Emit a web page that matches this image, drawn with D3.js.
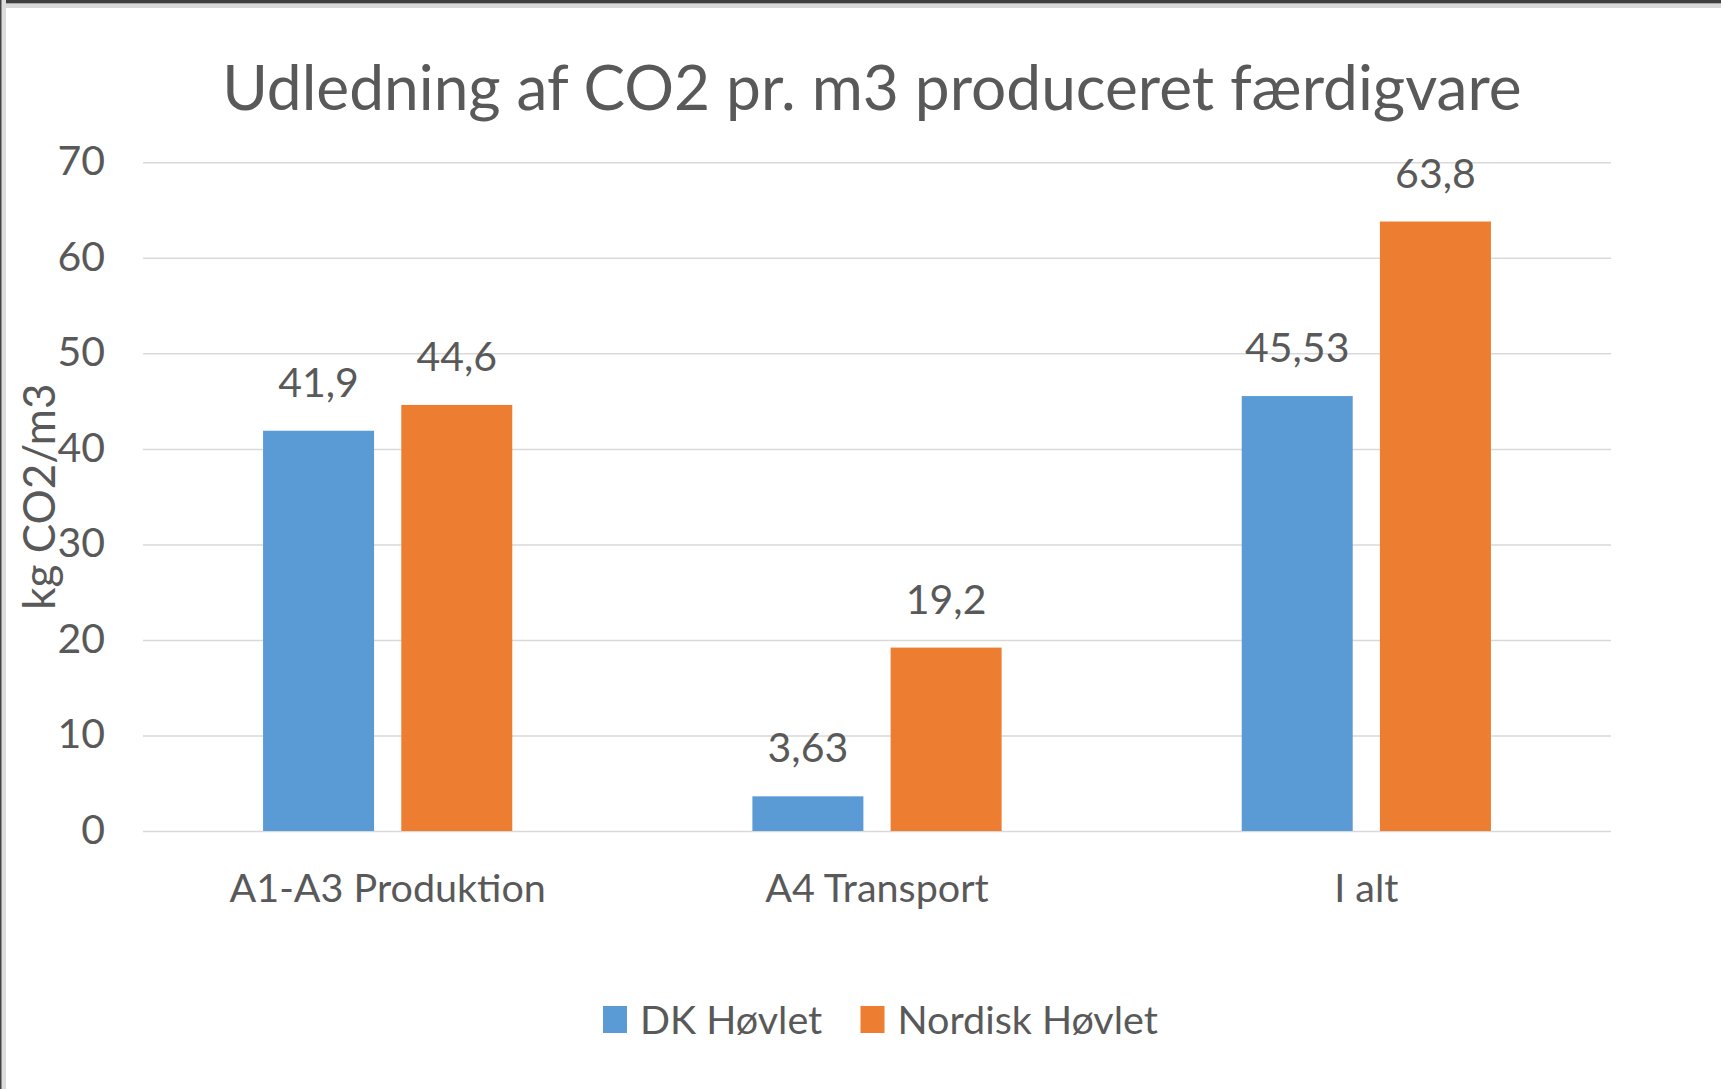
<!DOCTYPE html>
<html>
<head>
<meta charset="utf-8">
<script src="https://cdn.jsdelivr.net/npm/d3@7"></script>
<style>
  body { margin: 0; background: #fff; }
  text { font-family: Lato, "Open Sans", sans-serif; fill: #595959; }
</style>
</head>
<body>
<div id="chart"></div>
<script>
// data
var categories = ["A1-A3 Produktion", "A4 Transport", "I alt"];
var seriesNames = ["DK Høvlet", "Nordisk Høvlet"];
var dkValues = [41.9, 3.63, 45.53];
var nordiskValues = [44.6, 19.2, 63.8];
var yTicks = [0, 10, 20, 30, 40, 50, 60, 70];
var colors = ["#5b9bd5", "#ed7d31"];

var width = 1721, height = 1089;
var plot = { left: 143, right: 1611, top: 162.3, bottom: 831 };

var svg = d3.select("#chart").append("svg")
    .attr("width", width)
    .attr("height", height);

svg.append("rect").attr("width", width).attr("height", height).attr("fill", "#fff");

// window frame bits at top and left
svg.append("rect").attr("x", 0).attr("y", 0).attr("width", width).attr("height", 8).attr("fill", "#d9d9d9");
svg.append("rect").attr("x", 0).attr("y", 0).attr("width", width).attr("height", 3.3).attr("fill", "#3f3f3f");
svg.append("rect").attr("x", 0).attr("y", 0).attr("width", 6).attr("height", height).attr("fill", "#dcdcdc");
svg.append("rect").attr("x", 0).attr("y", 0).attr("width", 1.5).attr("height", height).attr("fill", "#444");

// scales
var x0 = d3.scaleBand()
    .domain(categories)
    .range([plot.left, plot.right])
    .paddingInner(0.4907)
    .paddingOuter(0.24535);

var x1 = d3.scaleBand()
    .domain(seriesNames)
    .range([0, x0.bandwidth()])
    .paddingInner(0.197)
    .paddingOuter(0);

var y = d3.scaleLinear()
    .domain([0, 70])
    .range([plot.bottom, plot.top]);

// gridlines + y tick labels
var yAxis = svg.append("g")
    .attr("transform", "translate(" + plot.left + ",0)")
    .call(d3.axisLeft(y)
        .tickValues(yTicks)
        .tickSize(-(plot.right - plot.left))
        .tickPadding(38));
yAxis.select(".domain").remove();
yAxis.selectAll(".tick line").attr("stroke", "#d9d9d9").attr("stroke-width", 1.5);
yAxis.selectAll(".tick text")
    .attr("font-size", 41)
    .attr("font-family", "Lato, sans-serif")
    .attr("fill", "#595959")
    .attr("dy", "0.3em");

// category labels
var xAxis = svg.append("g")
    .attr("transform", "translate(0," + plot.bottom + ")")
    .call(d3.axisBottom(x0).tickSize(0).tickPadding(0));
xAxis.select(".domain").remove();
xAxis.selectAll(".tick text")
    .attr("font-size", 39.5)
    .attr("font-family", "Lato, sans-serif")
    .attr("fill", "#595959")
    .attr("dy", 0)
    .attr("y", 71);

// bars
var rows = categories.map(function(c, i) {
    return { category: c, values: [dkValues[i], nordiskValues[i]] };
});

var groups = svg.selectAll(".group")
    .data(rows)
    .enter()
    .append("g")
    .attr("class", "group")
    .attr("transform", function(d) { return "translate(" + x0(d.category) + ",0)"; });

var bars = groups.selectAll(".bar")
    .data(function(d) {
        return d.values.map(function(v, i) { return { series: seriesNames[i], value: v, i: i }; });
    })
    .enter();

bars.append("rect")
    .attr("class", "bar")
    .attr("x", function(d) { return x1(d.series); })
    .attr("y", function(d) { return y(d.value); })
    .attr("width", x1.bandwidth())
    .attr("height", function(d) { return y(0) - y(d.value); })
    .attr("fill", function(d) { return colors[d.i]; });

// value labels, comma decimal
bars.append("text")
    .attr("x", function(d) { return x1(d.series) + x1.bandwidth() / 2; })
    .attr("y", function(d) { return y(d.value) - 34; })
    .attr("text-anchor", "middle")
    .attr("font-size", 41)
    .text(function(d) { return String(d.value).replace(".", ","); });

// title
svg.append("text")
    .attr("x", 872)
    .attr("y", 110)
    .attr("text-anchor", "middle")
    .attr("font-size", 62.2)
    .text("Udledning af CO2 pr. m3 produceret færdigvare");

// y axis title
svg.append("text")
    .attr("transform", "translate(55," + (plot.top + plot.bottom) / 2 + ") rotate(-90)")
    .attr("text-anchor", "middle")
    .attr("font-size", 44)
    .text("kg CO2/m3");

// legend
var legendX = [603, 860.5];
var legend = svg.selectAll(".legend")
    .data(seriesNames)
    .enter()
    .append("g")
    .attr("class", "legend")
    .attr("transform", function(d, i) { return "translate(" + legendX[i] + ",1006)"; });

legend.append("rect")
    .attr("width", 24)
    .attr("height", 27)
    .attr("fill", function(d, i) { return colors[i]; });

legend.append("text")
    .attr("x", 37)
    .attr("y", 28)
    .attr("font-size", 39.5)
    .text(function(d) { return d; });
</script>
</body>
</html>
